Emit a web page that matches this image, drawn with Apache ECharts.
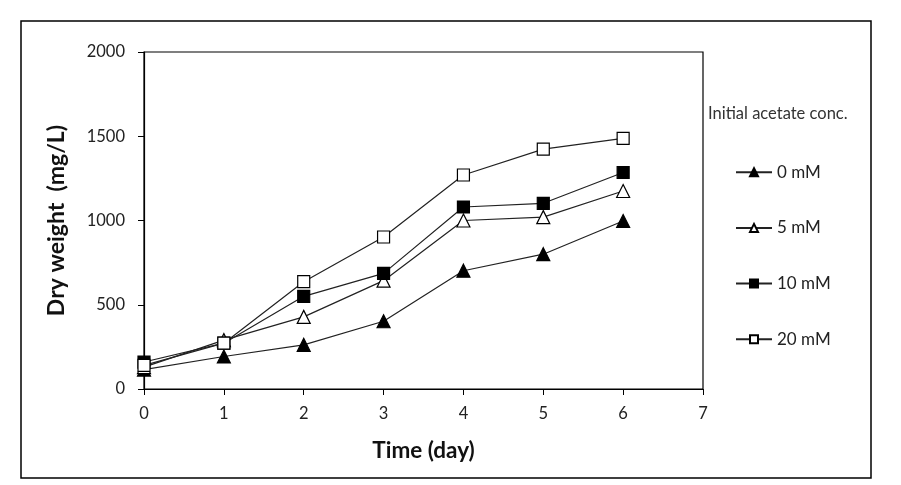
<!DOCTYPE html>
<html>
<head>
<meta charset="utf-8">
<script src="https://cdn.jsdelivr.net/npm/echarts@6/dist/echarts.min.js"></script>
<style>html,body{margin:0;padding:0;background:#fff;}#c{width:901px;height:485px;}</style>
</head>
<body>
<div id="c"></div>
<script>
const days = [0, 1, 2, 3, 4, 5, 6];
const seriesNames = ['0 mM', '5 mM', '10 mM', '20 mM'];
const dw0 = [115, 193, 262, 402, 702, 800, 997];
const dw5 = [130, 290, 428, 643, 1000, 1020, 1175];
const dw10 = [160, 272, 550, 686, 1080, 1102, 1285];
const dw20 = [140, 272, 637, 902, 1270, 1424, 1487];
const yTicks = [0, 500, 1000, 1500, 2000];
const xTicks = [0, 1, 2, 3, 4, 5, 6, 7];

const FONT = 'Lato, "Open Sans", sans-serif';
const styles = [
  {symbol: 'triangle', fill: '#000'},
  {symbol: 'triangle', fill: '#fff'},
  {symbol: 'rect', fill: '#000'},
  {symbol: 'rect', fill: '#fff'}
];
const allData = [dw0, dw5, dw10, dw20];

const chart = echarts.init(document.getElementById('c'));
chart.setOption({
  animation: false,
  backgroundColor: '#fff',
  graphic: [{
    type: 'rect', shape: {x: 21, y: 21, width: 850, height: 457},
    style: {fill: 'none', stroke: '#000', lineWidth: 1.5}, silent: true
  }],
  title: {
    text: 'Initial acetate conc.', left: 708, top: 105, padding: 0,
    textStyle: {fontFamily: FONT, fontSize: 16.5, fontWeight: 'normal', color: '#333', letterSpacing: 0.8}
  },
  legend: {
    orient: 'vertical', left: 735, top: 163.7, padding: 0,
    itemWidth: 36, itemHeight: 10, itemGap: 38.7,
    data: seriesNames,
    textStyle: {fontFamily: FONT, fontSize: 17, lineHeight: 16, color: '#222'}
  },
  grid: {left: 144, right: 198, top: 52, bottom: 96, show: true, borderColor: '#000', borderWidth: 1.2},
  xAxis: {
    type: 'value', min: xTicks[0], max: xTicks[xTicks.length - 1], interval: 1,
    name: 'Time (day)', nameLocation: 'middle', nameGap: 50,
    nameTextStyle: {fontFamily: FONT, fontSize: 22.5, fontWeight: 'bold', color: '#111'},
    axisLine: {show: true, lineStyle: {color: '#000', width: 1.2}},
    axisTick: {show: true, inside: false, length: 6, lineStyle: {color: '#000'}},
    axisLabel: {fontFamily: FONT, fontSize: 16.5, color: '#222', margin: 16},
    splitLine: {show: false}
  },
  yAxis: {
    type: 'value', min: yTicks[0], max: yTicks[yTicks.length - 1], interval: 500,
    name: 'Dry weight  (mg/L)', nameLocation: 'middle', nameGap: 76,
    nameTextStyle: {fontFamily: FONT, fontSize: 23, fontWeight: 'bold', color: '#111'},
    axisLine: {show: true, lineStyle: {color: '#000', width: 1.2}},
    axisTick: {show: true, inside: false, length: 6, lineStyle: {color: '#000'}},
    axisLabel: {fontFamily: FONT, fontSize: 16.5, color: '#222', margin: 19, formatter: v => String(v)},
    splitLine: {show: false}
  },
  series: seriesNames.map((n, i) => ({
    name: n, type: 'line',
    data: days.map((d, j) => [d, allData[i][j]]),
    symbol: styles[i].symbol,
    symbolSize: styles[i].symbol === 'rect' ? 12 : 13,
    showAllSymbol: true,
    lineStyle: {color: '#222', width: 1.2},
    itemStyle: {color: styles[i].fill, borderColor: '#000', borderWidth: 1.2},
    z: 2 + i
  }))
});
</script>
</body>
</html>
